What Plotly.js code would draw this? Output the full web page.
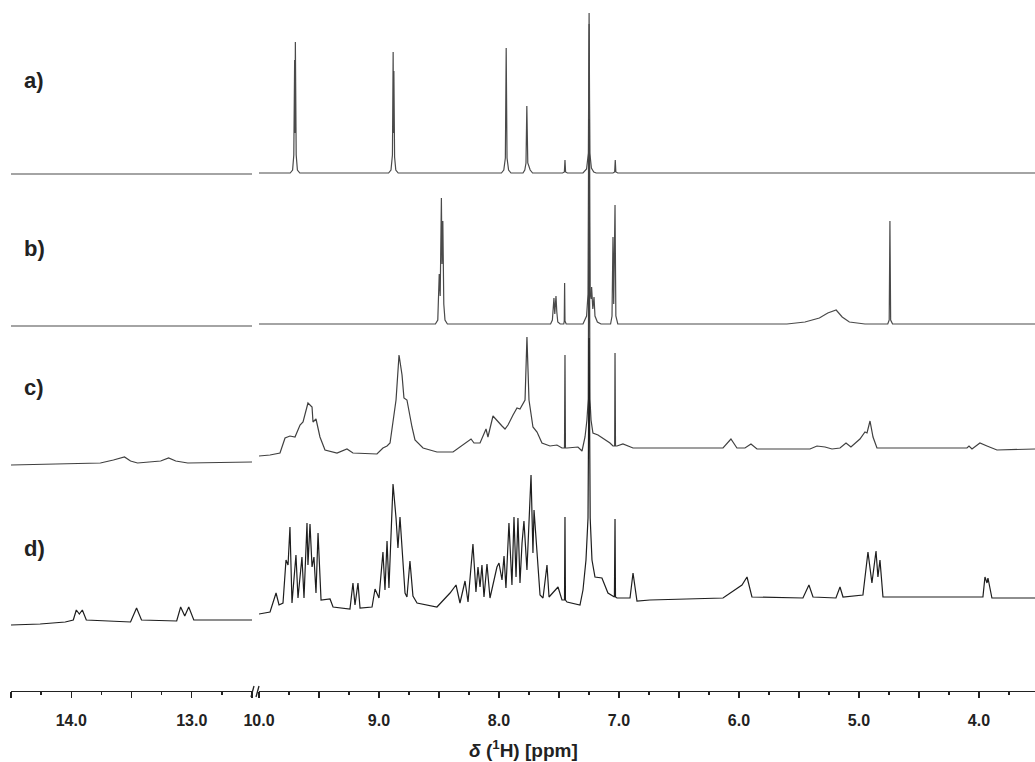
<!DOCTYPE html>
<html>
<head>
<meta charset="utf-8">
<script src="https://cdn.plot.ly/plotly-3.0.1.min.js"></script>
<style>
  html, body { margin: 0; padding: 0; background: #fff; }
  #nmr { width: 1035px; height: 762px; }
</style>
</head>
<body>
<div id="nmr"></div>
<script>
// spectra as [ppm, intensity], intensity relative to each baseline
const aLeft = [[14.5, 0], [12.5, 0]];
const aRight = [
  [10.0, 1], [9.74, 1], [9.72, 4], [9.71, 19], [9.703, 114], [9.700, 41], [9.697, 132], [9.69, 19], [9.68, 4], [9.66, 1],
  [8.92, 1], [8.90, 4], [8.888, 19], [8.882, 122], [8.879, 41], [8.876, 103], [8.87, 17], [8.86, 4], [8.84, 1],
  [7.98, 1], [7.96, 4], [7.947, 16], [7.940, 126], [7.933, 16], [7.92, 4], [7.90, 1],
  [7.80, 1], [7.785, 4], [7.775, 11], [7.768, 68], [7.76, 11], [7.74, 4], [7.72, 1],
  [7.47, 1], [7.455, 2], [7.450, 14], [7.445, 2], [7.43, 1],
  [7.30, 1], [7.27, 5], [7.255, 21], [7.249, 161], [7.243, 21], [7.23, 6], [7.21, 2], [7.19, 1],
  [7.05, 1], [7.036, 2], [7.031, 14], [7.026, 2], [7.01, 1], [3.533, 1]
];

const bLeft = [[14.5, -2], [12.5, -2]];
const bRight = [
  [10.0, 0], [8.53, 0], [8.51, 4], [8.50, 30], [8.498, 50], [8.49, 28], [8.480, 126], [8.475, 60], [8.468, 103], [8.46, 20], [8.45, 4], [8.43, 0],
  [7.57, 0], [7.555, 4], [7.547, 14], [7.542, 26], [7.535, 10], [7.525, 28], [7.518, 12], [7.51, 2], [7.49, 0],
  [7.46, 0], [7.456, 3], [7.453, 41], [7.450, 3], [7.44, 0],
  [7.30, 0], [7.285, 4], [7.27, 8], [7.258, 30], [7.249, 300], [7.240, 30], [7.232, 25], [7.228, 37], [7.218, 15], [7.208, 27], [7.20, 8], [7.18, 2], [7.15, 0],
  [7.07, 0], [7.058, 8], [7.050, 87], [7.044, 20], [7.033, 119], [7.026, 8], [7.01, 0],
  [5.60, 0], [5.45, 2], [5.33, 6], [5.26, 11], [5.19, 14], [5.14, 7], [5.08, 2], [4.95, 0],
  [4.76, 0], [4.748, 4], [4.742, 103], [4.736, 4], [4.72, 0], [3.533, 0]
];

const cLeft = [
  [14.5, -16], [13.758, -14], [13.65, -11], [13.558, -8], [13.508, -12], [13.45, -14],
  [13.258, -12], [13.192, -9], [13.133, -12], [13.033, -14], [12.5, -13]
];
const cRight = [
  [10.0, -7], [9.908, -6], [9.825, -4], [9.783, 11], [9.742, 13], [9.70, 12], [9.658, 24], [9.633, 27],
  [9.592, 46], [9.558, 42], [9.55, 27], [9.525, 30], [9.492, 12], [9.45, -1], [9.35, -4], [9.267, 0],
  [9.217, -4], [9.017, -5], [8.967, 1], [8.933, 3], [8.908, 6], [8.858, 49], [8.833, 94], [8.808, 74],
  [8.792, 51], [8.767, 49], [8.725, 22], [8.70, 9], [8.633, 1], [8.517, -3], [8.383, -3], [8.30, 4],
  [8.233, 10], [8.208, 6], [8.158, 6], [8.108, 20], [8.092, 12], [8.05, 33], [8.008, 27], [7.975, 23],
  [7.95, 20], [7.925, 24], [7.883, 34], [7.85, 41], [7.825, 40], [7.783, 49], [7.767, 112], [7.75, 49],
  [7.717, 22], [7.683, 17], [7.642, 6], [7.575, 3], [7.517, 4], [7.475, 1], [7.454, 1], [7.45, 94],
  [7.446, 1], [7.433, 1], [7.342, 2], [7.308, -2], [7.283, 12], [7.267, 29], [7.256, 50], [7.249, 330],
  [7.242, 50], [7.233, 29], [7.217, 16], [7.175, 14], [7.075, 6], [7.05, 3], [7.036, 3], [7.033, 96],
  [7.029, 3], [7.017, 3], [6.967, 5], [6.883, 1], [6.742, 1], [6.133, 1], [6.067, 10], [6.017, 1],
  [5.95, 1], [5.90, 5], [5.85, 0], [5.408, 0], [5.35, 3], [5.283, 2], [5.225, 0], [5.158, 1], [5.108, 6],
  [5.067, 2], [4.992, 10], [4.95, 17], [4.933, 16], [4.908, 28], [4.883, 12], [4.85, 1], [4.10, 1],
  [4.083, 3], [4.058, 0], [3.992, 6], [3.933, 3], [3.883, 1], [3.85, -1], [3.533, 0]
];

const dLeft = [
  [14.5, -27], [14.258, -26], [14.05, -24], [13.983, -22], [13.958, -12], [13.933, -16], [13.908, -12],
  [13.875, -22], [13.508, -24], [13.458, -10], [13.417, -22], [13.125, -23], [13.092, -9], [13.058, -18],
  [13.025, -9], [12.983, -22], [12.5, -22]
];
const dRight = [
  [10.0, -16], [9.908, -14], [9.858, 5], [9.833, -7], [9.80, -5], [9.775, 38], [9.758, 33], [9.742, 71],
  [9.725, -5], [9.692, 43], [9.675, 0], [9.642, 41], [9.625, 0], [9.60, 75], [9.592, 33], [9.575, 74],
  [9.558, 31], [9.542, 41], [9.525, 5], [9.508, 65], [9.483, -2], [9.408, -1], [9.383, -9], [9.242, -11],
  [9.217, 15], [9.20, -7], [9.175, 15], [9.158, -10], [9.058, -9], [9.033, 9], [9.0, 0], [8.967, 46],
  [8.95, 8], [8.933, 57], [8.917, 10], [8.883, 114], [8.858, 80], [8.842, 50], [8.825, 81], [8.808, 45],
  [8.783, 5], [8.767, 1], [8.742, 37], [8.717, 2], [8.683, -5], [8.517, -9], [8.408, 5], [8.358, 13],
  [8.325, -5], [8.283, 17], [8.258, -4], [8.217, 54], [8.192, 6], [8.175, 31], [8.158, 11], [8.142, 33],
  [8.125, 1], [8.10, 34], [8.075, 0], [8.017, 31], [8.0, 35], [7.975, 18], [7.958, 42], [7.942, 10],
  [7.917, 75], [7.892, 13], [7.875, 81], [7.858, 21], [7.842, 80], [7.825, 15], [7.808, 55], [7.792, 77],
  [7.767, 28], [7.733, 123], [7.717, 45], [7.708, 88], [7.692, 61], [7.658, 3], [7.633, 0], [7.60, 33],
  [7.583, 1], [7.508, 11], [7.475, -2], [7.454, -2], [7.45, 81], [7.446, -2], [7.433, -4], [7.325, -7],
  [7.30, 8], [7.275, 38], [7.258, 80], [7.249, 260], [7.240, 80], [7.225, 38], [7.20, 21], [7.142, 20],
  [7.092, 5], [7.05, 2], [7.038, 1], [7.033, 79], [7.029, 1], [7.017, 0], [6.908, 0], [6.883, 25],
  [6.85, -3], [6.742, -2], [6.133, 0], [5.975, 13], [5.933, 21], [5.892, 1], [5.467, 0], [5.417, 13],
  [5.383, 1], [5.192, 0], [5.158, 11], [5.133, 1], [4.967, 3], [4.925, 46], [4.892, 15], [4.858, 47],
  [4.842, 21], [4.825, 38], [4.80, 1], [3.967, 1], [3.95, 21], [3.933, 15], [3.925, 20], [3.892, 0],
  [3.533, 0]
];

const panelNames = ["a)", "b)", "c)", "d)"];
const labelTicksRight = [10, 9, 8, 7, 6, 5, 4];
const labelTextRight = ["10.0", "9.0", "8.0", "7.0", "6.0", "5.0", "4.0"];
const halfTicksRight = [9.5, 8.5, 7.5, 6.5, 5.5, 4.5];
const labelTicksLeft = [14, 13];
const labelTextLeft = ["14.0", "13.0"];
const halfTicksLeft = [14.5, 13.5, 12.5];

// vertical stacking (plot units = px above the axis line)
const offsets = [517, 367, 242, 93];
const colors = ["#4a4a4a", "#4a4a4a", "#404040", "#1e1e1e"];
const spectra = [[aLeft, aRight], [bLeft, bRight], [cLeft, cRight], [dLeft, dRight]];

const W = 1035, H = 762, B = 71;
const FONT = "Liberation Sans, Arial, sans-serif";
const LEFT_RANGE = [14.5, 12.5];
const RIGHT_RANGE = [10.0, 3.533];

const traces = [];
spectra.forEach(function (s, i) {
  [["x", s[0]], ["x2", s[1]]].forEach(function (part) {
    traces.push({
      type: "scatter",
      mode: "lines",
      x: part[1].map(p => p[0]),
      y: part[1].map(p => p[1] + offsets[i]),
      xaxis: part[0],
      yaxis: "y",
      line: {color: colors[i], width: 1.2},
      hoverinfo: "skip",
      showlegend: false
    });
  });
});
// invisible carriers so the half-ppm tick axes get drawn
[["x3", LEFT_RANGE], ["x4", RIGHT_RANGE]].forEach(function (c) {
  traces.push({
    type: "scatter", mode: "lines", x: c[1], y: [-50, -50],
    xaxis: c[0], yaxis: "y", line: {color: "rgba(0,0,0,0)"},
    hoverinfo: "skip", showlegend: false
  });
});

const tickBase = {
  ticks: "outside",
  ticklen: 6,
  tickwidth: 1.3,
  tickcolor: "#222",
  showgrid: false,
  zeroline: false,
  tickmode: "array",
  fixedrange: true
};

const labelAxis = Object.assign({}, tickBase, {
  showline: true,
  linecolor: "#222",
  linewidth: 1.3,
  ticklabelstandoff: 8,
  tickfont: {family: FONT, size: 16, color: "#222", weight: "bold"},
  minor: {dtick: 0.25, tick0: 0, ticks: "outside", ticklen: 3, tickwidth: 1.3, tickcolor: "#222", showgrid: false}
});

const halfAxis = Object.assign({}, tickBase, {
  showline: false,
  showticklabels: false
});

const px = v => v / W;
const py = v => (H - B - v) / (H - B);

const labelY = [80, 248, 387, 548];
const annotations = panelNames.map(function (name, i) {
  return {
    text: name,
    xref: "paper", yref: "paper",
    x: px(22), y: py(labelY[i]),
    xanchor: "left", yanchor: "middle",
    showarrow: false,
    font: {family: FONT, size: 22, color: "#222", weight: "bold"}
  };
});
annotations.push({
  text: "<i>δ</i> (<sup>1</sup>H) [ppm]",
  xref: "paper", yref: "paper",
  x: px(523), y: py(749),
  xanchor: "center", yanchor: "middle",
  showarrow: false,
  font: {family: FONT, size: 19, color: "#222", weight: "bold"}
});

const layout = {
  width: W,
  height: H,
  margin: {l: 0, r: 0, t: 0, b: B, pad: 0},
  paper_bgcolor: "#fff",
  plot_bgcolor: "#fff",
  showlegend: false,
  xaxis: Object.assign({}, labelAxis, {
    domain: [px(11), px(252)],
    range: LEFT_RANGE,
    tickvals: labelTicksLeft,
    ticktext: labelTextLeft,
    anchor: "y"
  }),
  xaxis2: Object.assign({}, labelAxis, {
    domain: [px(259), 1],
    range: RIGHT_RANGE,
    tickvals: labelTicksRight,
    ticktext: labelTextRight,
    anchor: "y"
  }),
  xaxis3: Object.assign({}, halfAxis, {
    overlaying: "x",
    range: LEFT_RANGE,
    tickvals: halfTicksLeft,
    anchor: "y"
  }),
  xaxis4: Object.assign({}, halfAxis, {
    overlaying: "x2",
    range: RIGHT_RANGE,
    tickvals: halfTicksRight,
    anchor: "y"
  }),
  yaxis: {
    range: [0, H - B],
    visible: false,
    fixedrange: true
  },
  shapes: [
    {type: "line", xref: "paper", yref: "paper", x0: px(251), x1: px(254), y0: py(697), y1: py(686), line: {color: "#222", width: 1.3}},
    {type: "line", xref: "paper", yref: "paper", x0: px(256), x1: px(259), y0: py(697), y1: py(686), line: {color: "#222", width: 1.3}}
  ],
  annotations: annotations
};

Plotly.newPlot("nmr", traces, layout, {displayModeBar: false, staticPlot: true});
</script>
</body>
</html>
